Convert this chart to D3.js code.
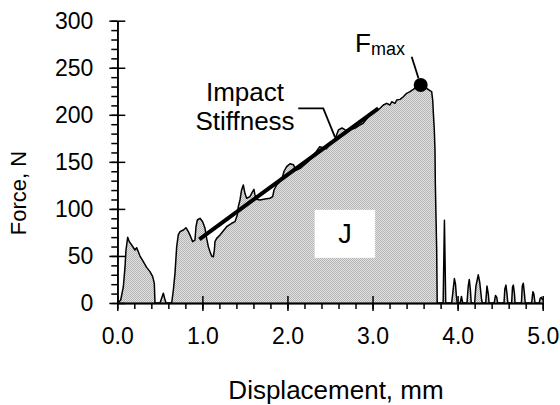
<!DOCTYPE html>
<html>
<head>
<meta charset="utf-8">
<script src="https://cdn.jsdelivr.net/npm/d3@7"></script>
<style>
  html, body { margin: 0; padding: 0; background: #fff; }
  svg { display: block; font-family: "Liberation Sans", Arial, Helvetica, sans-serif; }
</style>
</head>
<body>
<svg id="chart" width="560" height="405"></svg>
<script>
// displacement (mm) and force (N)
var displacement = [
  0.000, 0.012, 0.040, 0.071, 0.091, 0.102, 0.122, 0.141, 0.169, 0.208, 0.228, 0.267, 0.306,
  0.345, 0.384, 0.416, 0.435, 0.443, 0.502, 0.521, 0.541, 0.556, 0.572, 0.639, 0.659, 0.678,
  0.698, 0.717, 0.737, 0.776, 0.807, 0.835, 0.862, 0.886, 0.913, 0.925, 0.941, 0.972, 1.003,
  1.031, 1.050, 1.070, 1.090, 1.109, 1.129, 1.141, 1.148, 1.168, 1.207, 1.285, 1.344, 1.383,
  1.410, 1.422, 1.442, 1.461, 1.481, 1.500, 1.520, 1.559, 1.590, 1.606, 1.618, 1.637, 1.677,
  1.735, 1.794, 1.826, 1.842, 1.873, 1.932, 1.960, 1.990, 2.030, 2.070, 2.100, 2.150, 2.200,
  2.250, 2.300, 2.340, 2.380, 2.420, 2.460, 2.500, 2.550, 2.600, 2.640, 2.680, 2.720, 2.760,
  2.800, 2.850, 2.890, 2.950, 3.000, 3.050, 3.088, 3.127, 3.166, 3.205, 3.225, 3.264, 3.284,
  3.323, 3.362, 3.401, 3.440, 3.480, 3.519, 3.558, 3.636, 3.675, 3.695, 3.707, 3.715, 3.726,
  3.734, 3.738, 3.746, 3.754, 3.760,
  3.830, 3.845, 3.860, 3.930, 3.945, 3.962, 3.975, 3.985, 3.995, 4.030, 4.045, 4.060, 4.110,
  4.125, 4.137, 4.150, 4.160, 4.200, 4.215, 4.243, 4.260, 4.280, 4.290, 4.330, 4.345, 4.360,
  4.370, 4.430, 4.445, 4.460, 4.470, 4.545, 4.555, 4.568, 4.580, 4.590, 4.635, 4.645, 4.655,
  4.668, 4.675, 4.750, 4.760, 4.772, 4.785, 4.795, 4.870, 4.885, 4.895, 4.910, 4.960, 4.970,
  4.985, 5.000
];
var force = [
  0, 0.5, 3.2, 17.3, 38.6, 56.3, 69.8, 65.2, 61.6, 56.3, 58.8, 49.9, 43.9,
  37.9, 33.3, 28.0, 20.9, 0, 0, 5, 10.3, 5, 0, 0, 13.8, 31.5,
  59.9, 72.3, 75.8, 77.6, 80.0, 75.8, 70.5, 65.2, 66.9, 81.1, 88.2, 90.0, 86.4,
  79.4, 68.7, 59.9, 54.5, 49.9, 49.2, 56.3, 65.2, 68.7, 72.3, 81.1, 84.7, 86.4,
  93.5, 102.3, 109.5, 120.1, 125.4, 116.6, 111.3, 113.0, 118.3, 120.8, 114.8, 110.2, 109.5,
  110.5, 111.3, 113.0, 120.1, 125.4, 131, 140, 145, 148, 147, 141, 143, 147,
  151, 157, 161, 166, 165, 164, 169, 172, 184, 186, 184, 183, 185,
  186, 189, 191, 198, 202, 205, 206.9, 210.4, 212.2, 210.4, 213.9, 212.2, 215.7,
  216.4, 219.2, 222.8, 224.6, 227.1, 229.9, 230.6, 228.1, 225.6, 224.6, 215.7, 201.6, 183.8,
  162.6, 127.2, 91.7, 56.3, 0,
  0, 88, 0, 0, 12, 26, 20, 8, 0, 0, 7, 0, 0,
  18, 25, 14, 0, 0, 18, 30, 22, 5, 0, 0, 18, 10,
  0, 0, 8, 6, 0, 0, 15, 19, 10, 0, 0, 17, 19,
  10, 0, 0, 18, 21, 10, 0, 0, 12, 10, 0, 0, 5,
  6, 3
];

var xTickValues = [0, 1, 2, 3, 4, 5];
var xMinorTicks = d3.range(0, 5.001, 0.2);
var yTickValues = [0, 50, 100, 150, 200, 250, 300];
var yMinorTicks = d3.range(0, 301, 10);

// impact stiffness fit line, peak force, energy label box
var stiffnessX = [0.964, 3.068];
var stiffnessY = [67.7, 206.9];
var fmaxX = 3.566, fmaxY = 231.7;
var boxX = [2.32, 3.03];
var boxY = [48, 99];

var svg = d3.select('#chart');
var x = d3.scaleLinear().domain([0, 5]).range([117.3, 542.7]);
var y = d3.scaleLinear().domain([0, 300]).range([303, 20.7]);

// fine grey dotted fill
var pat = svg.append('defs').append('pattern')
  .attr('id', 'dots')
  .attr('patternUnits', 'userSpaceOnUse')
  .attr('width', 2).attr('height', 2);
pat.append('rect').attr('width', 2).attr('height', 2).attr('fill', '#e2e2e2');
pat.append('rect').attr('width', 1).attr('height', 1).attr('fill', '#b4b4b4');
pat.append('rect').attr('x', 1).attr('y', 1).attr('width', 1).attr('height', 1).attr('fill', '#b4b4b4');

var pts = displacement.map(function(d, i) { return [d, force[i]]; });

var area = d3.area()
  .x(function(d) { return x(d[0]); })
  .y0(y(0))
  .y1(function(d) { return y(d[1]); });

var line = d3.line()
  .x(function(d) { return x(d[0]); })
  .y(function(d) { return y(d[1]); });

svg.append('path')
  .datum(pts)
  .attr('d', area)
  .attr('fill', 'url(#dots)');

svg.append('path')
  .datum(pts)
  .attr('d', line)
  .attr('fill', 'none')
  .attr('stroke', '#000')
  .attr('stroke-width', 1.5)
  .attr('stroke-linejoin', 'round');

// J box
svg.append('rect')
  .attr('x', x(boxX[0]))
  .attr('y', y(boxY[1]))
  .attr('width', x(boxX[1]) - x(boxX[0]))
  .attr('height', y(boxY[0]) - y(boxY[1]))
  .attr('fill', '#fff');
svg.append('text')
  .attr('x', (x(boxX[0]) + x(boxX[1])) / 2)
  .attr('y', y(boxY[0]) - 15)
  .attr('text-anchor', 'middle')
  .attr('font-size', 27)
  .text('J');

// stiffness line
svg.append('line')
  .attr('x1', x(stiffnessX[0])).attr('y1', y(stiffnessY[0]))
  .attr('x2', x(stiffnessX[1])).attr('y2', y(stiffnessY[1]))
  .attr('stroke', '#000')
  .attr('stroke-width', 4);

// leader from label to stiffness line
svg.append('path')
  .attr('d', line([[2.127, 206.9], [2.421, 206.9], [2.56, 176]]))
  .attr('fill', 'none')
  .attr('stroke', '#000')
  .attr('stroke-width', 1.8);

svg.append('text')
  .attr('x', 245).attr('y', 100.7)
  .attr('text-anchor', 'middle')
  .attr('font-size', 26)
  .text('Impact');
svg.append('text')
  .attr('x', 245).attr('y', 130)
  .attr('text-anchor', 'middle')
  .attr('font-size', 26)
  .text('Stiffness');

// Fmax marker
svg.append('path')
  .attr('d', line([[3.46, 261.7], [3.54, 238.8]]))
  .attr('stroke', '#000')
  .attr('stroke-width', 1.8);
svg.append('circle')
  .attr('cx', x(fmaxX)).attr('cy', y(fmaxY))
  .attr('r', 7)
  .attr('fill', '#000');

var fm = svg.append('text')
  .attr('x', 355).attr('y', 51.7)
  .attr('font-size', 26);
fm.append('tspan').text('F');
fm.append('tspan').attr('font-size', 18).attr('dy', 3).text('max');

// axes
function styleAxis(g) {
  g.select('.domain').attr('stroke', '#000').attr('stroke-width', 1.5);
  g.selectAll('.tick line').attr('stroke', '#000').attr('stroke-width', 1.5);
  g.selectAll('text').attr('fill', '#000').attr('font-size', 23)
    .attr('font-family', '"Liberation Sans", Arial, sans-serif');
}

// x minor ticks (outside)
svg.append('g')
  .attr('transform', 'translate(0,' + y(0) + ')')
  .call(d3.axisBottom(x).tickValues(xMinorTicks).tickSize(6).tickSizeOuter(0).tickFormat(''))
  .call(styleAxis);
// x major ticks crossing the axis
svg.append('g')
  .attr('transform', 'translate(0,' + y(0) + ')')
  .call(d3.axisBottom(x).tickValues(xTickValues).tickSize(-7).tickSizeOuter(0).tickFormat(''))
  .call(styleAxis);
svg.append('g')
  .attr('transform', 'translate(0,' + y(0) + ')')
  .call(d3.axisBottom(x).tickValues(xTickValues).tickSize(8).tickSizeOuter(0).tickPadding(17)
    .tickFormat(d3.format('.1f')))
  .call(styleAxis);

// y minor ticks
svg.append('g')
  .attr('transform', 'translate(' + x(0) + ',0)')
  .call(d3.axisLeft(y).tickValues(yMinorTicks).tickSize(6).tickSizeOuter(0).tickFormat(''))
  .call(styleAxis);
svg.append('g')
  .attr('transform', 'translate(' + x(0) + ',0)')
  .call(d3.axisLeft(y).tickValues(yTickValues).tickSize(-8).tickSizeOuter(0).tickFormat(''))
  .call(styleAxis);
svg.append('g')
  .attr('transform', 'translate(' + x(0) + ',0)')
  .call(d3.axisLeft(y).tickValues(yTickValues).tickSize(8).tickSizeOuter(0).tickPadding(16))
  .call(styleAxis);

// axis titles
svg.append('text')
  .attr('x', 336).attr('y', 399)
  .attr('text-anchor', 'middle')
  .attr('font-size', 26)
  .text('Displacement, mm');

svg.append('text')
  .attr('transform', 'translate(26,193) rotate(-90)')
  .attr('text-anchor', 'middle')
  .attr('font-size', 22)
  .text('Force, N');
</script>
</body>
</html>
